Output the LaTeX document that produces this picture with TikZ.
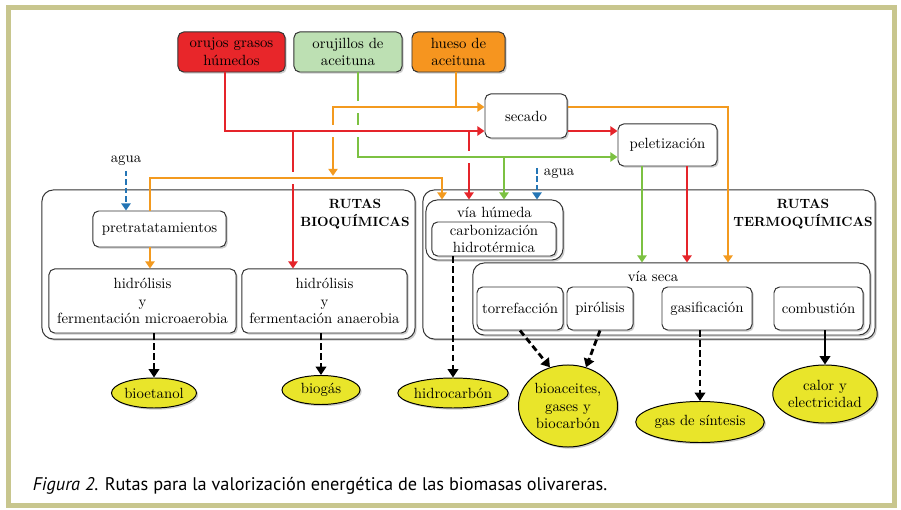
\documentclass[tikz,border=0pt]{standalone}
\usepackage{fontspec}
\newfontfamily\captionfont{PT Sans}
\usepackage{xcolor}
\usepackage{tikz}
\usetikzlibrary{arrows.meta,shapes.geometric,shadows}
\definecolor{framecolor}{HTML}{C8C68E}
\definecolor{rutared}{HTML}{E5242A}
\definecolor{rutagreen}{HTML}{7CC142}
\definecolor{rutaorange}{HTML}{F39A1F}
\definecolor{aguablue}{HTML}{2475B5}
\definecolor{prodyellow}{HTML}{E9E52A}
\definecolor{boxred}{HTML}{E8262A}
\definecolor{boxgreen}{HTML}{BDE0B3}
\definecolor{boxorange}{HTML}{F6951F}

\begin{document}
\begin{tikzpicture}[
  x=0.025cm,y=-0.025cm,
  box/.style={draw=black!80,rounded corners=4pt,fill=white,align=center,inner sep=1pt,line width=0.7pt,
    font=\fontsize{10.5}{12.5}\selectfont,drop shadow={shadow xshift=1.2pt,shadow yshift=-1.2pt,opacity=0.4}},
  route/.style={box,rounded corners=8pt},
  prod/.style={ellipse,draw=black,fill=prodyellow,align=center,inner sep=0pt,line width=0.7pt,
    font=\fontsize{10.5}{12.5}\selectfont,drop shadow={shadow xshift=1.2pt,shadow yshift=-1.2pt,opacity=0.4}},
  flow/.style={line width=1.8pt,-{Triangle[width=6.5pt,length=5pt]}},
  prodarrow/.style={line width=2pt,dash pattern=on 4.5pt off 2.5pt,-{Triangle[width=7.5pt,length=6pt]}},
  solidarrow/.style={line width=2pt,-{Triangle[width=7.5pt,length=6pt]}},
  water/.style={aguablue,line width=1.6pt,dash pattern=on 4pt off 2pt,-{Triangle[width=6.5pt,length=5pt]}},
  gap/.style={white,line width=8pt},
  title/.style={font=\fontsize{9.5}{12.5}\selectfont\bfseries,align=center}
]
\useasboundingbox (0,0) rectangle (901,510);
\draw[framecolor,line width=0.125cm] (8.5,7.5) rectangle (894.5,505.5);

% materias primas
\node[box,fill=boxred,minimum width=2.675cm,minimum height=1cm] (orujos) at (231.5,52) {orujos grasos\\húmedos};
\node[box,fill=boxgreen,minimum width=2.7cm,minimum height=1cm] (orujillos) at (348,52) {orujillos de\\aceituna};
\node[box,fill=boxorange,minimum width=2.325cm,minimum height=1cm] (hueso) at (458.5,52) {hueso de\\aceituna};
\node[box,minimum width=2.05cm,minimum height=1.1cm] (secado) at (526,116) {secado};
\node[box,minimum width=2.475cm,minimum height=1.05cm] (pelet) at (667.5,145) {peletización};

% rutas bioquimicas
\node[route,minimum width=9.325cm,minimum height=3.725cm] (bioq) at (228.5,264.5) {};
\node[title] (bioqlbl) at (355,214) {RUTAS\\BIOQUÍMICAS};
\node[box,minimum width=3.325cm,minimum height=0.9cm] (pret) at (159.5,229) {pretratatamientos};
\node[box,minimum width=4.675cm,minimum height=1.6cm] (micro) at (142.5,301) {hidrólisis\\y\\fermentación microaerobia};
\node[box,minimum width=4.125cm,minimum height=1.6cm] (anaer) at (324.5,301) {hidrólisis\\y\\fermentación anaerobia};

% rutas termoquimicas
\node[route,minimum width=11.3cm,minimum height=3.725cm] (termo) at (649,264.5) {};
\node[title] (termolbl) at (803,214) {RUTAS\\TERMOQUÍMICAS};
\node[route,minimum width=3.425cm,minimum height=1.5cm] (humeda) at (494.5,230) {};
\node[font=\fontsize{10.5}{12.5}\selectfont] (humedalbl) at (494.5,212) {vía húmeda};
\node[box,minimum width=3.1cm,minimum height=0.85cm] (carbon) at (494,239) {carbonización\\hidrotérmica};
\node[route,minimum width=9.925cm,minimum height=1.8cm] (seca) at (671.5,299) {};
\node[font=\fontsize{10.5}{12.5}\selectfont] (secalbl) at (653,276) {vía seca};
\node[box,minimum width=2.15cm,minimum height=1.075cm] (torre) at (520,308.5) {torrefacción};
\node[box,minimum width=1.65cm,minimum height=1.075cm] (pirol) at (600,308.5) {pirólisis};
\node[box,minimum width=2.25cm,minimum height=1.075cm] (gasif) at (707,308.5) {gasificación};
\node[box,minimum width=2.225cm,minimum height=1.075cm] (comb) at (818.5,308.5) {combustión};

% productos
\node[prod,minimum width=2.125cm,minimum height=0.75cm] (bioetanol) at (154,393) {bioetanol};
\node[prod,minimum width=1.95cm,minimum height=0.725cm] (biogas) at (321,390) {biogás};
\node[prod,minimum width=2.575cm,minimum height=0.75cm] (hidro) at (453,393) {hidrocarbón};
\node[prod,minimum width=2.475cm,minimum height=2.05cm] (bioac) at (568,406) {bioaceites,\\gases y\\biocarbón};
\node[prod,minimum width=2.875cm,minimum height=1.025cm] (gassin) at (700,422) {gas de síntesis};
\node[prod,minimum width=2.375cm,minimum height=1.45cm] (calor) at (825,394) {calor y\\electricidad};

% agua
\node[font=\fontsize{10.5}{12.5}\selectfont] (agua1) at (126,161) {agua};
\node[font=\fontsize{10.5}{12.5}\selectfont,anchor=west] (agua2) at (539,174) {agua};

% puntos de cruce
\coordinate (rj) at (225,131);
\coordinate (rb) at (293,131);
\coordinate (rh) at (469,131);
\coordinate (gj) at (358,157);
\coordinate (gh) at (504,157);
\coordinate (oj) at (456,107);
\coordinate (ob) at (333,107);
\coordinate (ol) at (150,178);
\coordinate (or) at (442,178);
\coordinate (oe) at (728,107);
\coordinate (pg) at (642,0);
\coordinate (pr) at (687,0);
\coordinate (aw) at (537,168);

% lineas rojas de abajo
\draw[rutared,flow] (rb) -- (rb |- anaer.north);
\draw[rutared,flow] (rh) -- (rh |- humeda.north);
% verde
\draw[gap] (rh |- gj) +(-5,0) -- +(5,0);
\draw[rutagreen,flow] (orujillos.south -| gj) -- (gj) -- (gj -| pelet.west);
\draw[rutagreen,flow] (gh) -- (gh |- humeda.north);
% naranja
\draw[gap] (gj |- oj) +(-5,0) -- +(5,0);
\draw[rutaorange,flow] (hueso.south -| oj) -- (oj) -- (oj -| secado.west);
\draw[rutaorange,flow,shorten >=1.5pt] (oj) -- (ob) -- (ob |- ol);
% rojo de arriba
\draw[gap] (gj |- rj) +(-5,0) -- +(5,0);
\draw[gap] (ob |- rj) +(-5,0) -- +(5,0);
\draw[rutared,flow] (orujos.south -| rj) -- (rj) -- (rj -| secado.west);
\draw[rutared,flow] (secado.east |- rj) -- (pelet.west |- rj);
% naranja hacia las rutas
\draw[gap] (rb |- ol) +(-5,0) -- +(5,0);
\draw[rutaorange,flow] (pret.north -| ol) -- (ol) -- (or) -- (or |- humeda.north);
\draw[rutaorange,flow] (pret.south -| ol) -- (micro.north -| ol);
\draw[rutaorange,flow] (secado.east |- oj) -- (oe) -- (oe |- seca.north);
% desde peletizacion
\draw[rutagreen,flow] (pelet.south -| pg) -- (seca.north -| pg);
\draw[rutared,flow] (pelet.south -| pr) -- (seca.north -| pr);
% agua
\draw[water] (agua1.south) -- (agua1.south |- pret.north);
\draw[water] (aw) -- (aw |- humeda.north);

% productos finales
\draw[prodarrow] (micro.south -| bioetanol.north) -- (bioetanol.north);
\draw[prodarrow] (anaer.south -| biogas.north) -- (biogas.north);
\draw[prodarrow] (carbon.south -| hidro.north) -- (hidro.north);
\draw[prodarrow] (torre.south) -- (bioac.115);
\draw[prodarrow] (pirol.south) -- (bioac.65);
\draw[prodarrow] (gasif.south -| gassin.north) -- (gassin.north);
\draw[solidarrow] (comb.south -| calor.north) -- (calor.north);

\node[anchor=west,font=\captionfont\fontsize{13}{15}\selectfont] (caption) at (28,486)
  {\textit{Figura 2.} Rutas para la valorización energética de las biomasas olivareras.};
\end{tikzpicture}
\end{document}
